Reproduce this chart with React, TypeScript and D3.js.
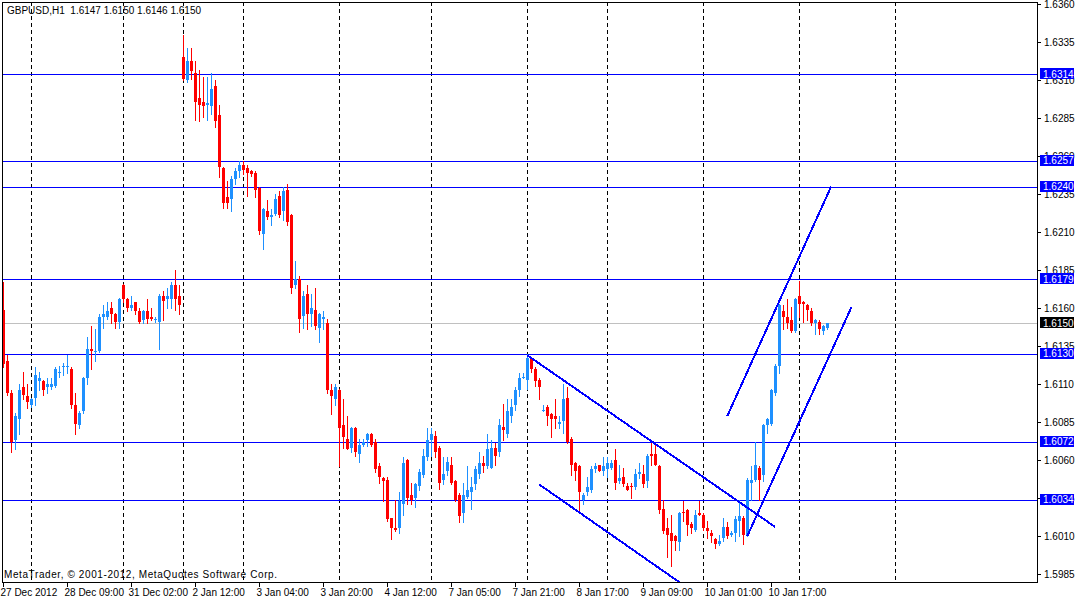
import React from "react";
import * as d3 from "d3";

// GBPUSD H1 candles (bar 0 = 27 Dec 2012)
const opens = [
  1.6159, 1.6125, 1.6104, 1.6073, 1.6087, 1.6108, 1.6102, 1.6096, 1.6101, 1.6112,
  1.6112, 1.6108, 1.6108, 1.6109, 1.6117, 1.6121, 1.6121, 1.612, 1.6096, 1.6083,
  1.6092, 1.6114, 1.6133, 1.6131, 1.6132, 1.6154, 1.6154, 1.616, 1.6156, 1.6151,
  1.6175, 1.6166, 1.616, 1.6164, 1.6158, 1.6152, 1.6158, 1.6154, 1.6152, 1.6151,
  1.6168, 1.6166, 1.6166, 1.6175, 1.6168, 1.6325, 1.631, 1.6323, 1.6315, 1.6298,
  1.6296, 1.6294, 1.6293, 1.6306, 1.6287, 1.6252, 1.6233, 1.6232, 1.6245, 1.625,
  1.6254, 1.6252, 1.625, 1.6249, 1.6239, 1.6209, 1.6224, 1.622, 1.6222, 1.6234,
  1.6224, 1.6238, 1.6221, 1.6175, 1.6179, 1.6155, 1.6169, 1.6156, 1.6159, 1.6147,
  1.6153, 1.615, 1.6106, 1.61, 1.6106, 1.6083, 1.6074, 1.6068, 1.6081, 1.6064,
  1.607, 1.6073, 1.6077, 1.6072, 1.6056, 1.6048, 1.6047, 1.6022, 1.6015, 1.6015,
  1.6031, 1.606, 1.6037, 1.6035, 1.6043, 1.605, 1.6062, 1.6073, 1.6076, 1.6068,
  1.6047, 1.6053, 1.6057, 1.6046, 1.6037, 1.6025, 1.6036, 1.6039, 1.6044, 1.6051,
  1.6058, 1.6056, 1.6055, 1.6068, 1.6065, 1.6082, 1.6077, 1.6089, 1.6096, 1.6106,
  1.6114, 1.6113, 1.6127, 1.612, 1.6113, 1.6092, 1.6095, 1.609, 1.6089, 1.6084,
  1.6086, 1.6101, 1.6074, 1.6058, 1.6056, 1.6034, 1.6039, 1.604, 1.6054, 1.6057,
  1.6053, 1.6054, 1.6055, 1.606, 1.6046, 1.6049, 1.6043, 1.6043, 1.6042, 1.6051,
  1.6051, 1.6046, 1.6064, 1.6064, 1.6056, 1.6028, 1.6015, 1.6012, 1.601, 1.6006,
  1.6026, 1.6027, 1.6018, 1.6014, 1.6025, 1.6024, 1.6015, 1.6012, 1.6008, 1.6005,
  1.6009, 1.6016, 1.6011, 1.6012, 1.602, 1.6022, 1.6011, 1.6045, 1.6047, 1.6055,
  1.605, 1.6083, 1.6084, 1.6104, 1.6122, 1.6158, 1.6154, 1.6152, 1.6145, 1.6168,
  1.6164, 1.6162, 1.6158, 1.615, 1.6151, 1.6145, 1.6147,
];
const highs = [
  1.6177, 1.6129, 1.6106, 1.6091, 1.611, 1.6118, 1.611, 1.6101, 1.6121, 1.6118,
  1.6113, 1.6114, 1.6114, 1.6121, 1.6122, 1.6124, 1.6129, 1.6121, 1.6104, 1.6092,
  1.6115, 1.6141, 1.6148, 1.6146, 1.6156, 1.6162, 1.6164, 1.6164, 1.6157, 1.6167,
  1.6176, 1.6167, 1.6168, 1.6164, 1.616, 1.6159, 1.6166, 1.616, 1.6154, 1.6169,
  1.6171, 1.6173, 1.6177, 1.6185, 1.6175, 1.634, 1.6331, 1.6331, 1.6323, 1.6317,
  1.6312, 1.6312, 1.6315, 1.631, 1.6294, 1.6253, 1.6244, 1.6247, 1.6252, 1.6257,
  1.6257, 1.6254, 1.6251, 1.625, 1.624, 1.6226, 1.6231, 1.6225, 1.6235, 1.6237,
  1.624, 1.6242, 1.6222, 1.6191, 1.6181, 1.6171, 1.6175, 1.6169, 1.6173, 1.6157,
  1.6158, 1.6153, 1.611, 1.611, 1.6107, 1.61, 1.6089, 1.6082, 1.6082, 1.6074,
  1.6074, 1.6078, 1.6078, 1.6074, 1.6058, 1.6049, 1.6049, 1.6022, 1.6034, 1.6039,
  1.6062, 1.6061, 1.6045, 1.6045, 1.6054, 1.6067, 1.6081, 1.6081, 1.6079, 1.6069,
  1.6062, 1.6062, 1.6062, 1.6047, 1.6038, 1.6045, 1.6056, 1.6049, 1.6056, 1.6065,
  1.6063, 1.6077, 1.6073, 1.6071, 1.6087, 1.6097, 1.61, 1.61, 1.6108, 1.6117,
  1.6117, 1.613, 1.6128, 1.6121, 1.6114, 1.6096, 1.6096, 1.6091, 1.61, 1.6089,
  1.611, 1.6108, 1.6075, 1.6059, 1.6057, 1.6038, 1.6049, 1.6056, 1.6058, 1.6057,
  1.6062, 1.6062, 1.606, 1.6067, 1.6057, 1.6055, 1.6045, 1.6045, 1.6054, 1.6058,
  1.6057, 1.6064, 1.6071, 1.607, 1.6057, 1.6034, 1.6022, 1.6024, 1.6011, 1.6026,
  1.6033, 1.6028, 1.6019, 1.6027, 1.6033, 1.6025, 1.602, 1.6014, 1.6009, 1.6011,
  1.6022, 1.6019, 1.6013, 1.6023, 1.6034, 1.6023, 1.6048, 1.6056, 1.6072, 1.6056,
  1.6084, 1.6088, 1.6107, 1.6123, 1.6163, 1.6162, 1.6166, 1.6161, 1.6167, 1.6178,
  1.6165, 1.6163, 1.616, 1.6153, 1.6152, 1.6149, 1.615,
];
const lows = [
  1.6121, 1.6103, 1.6065, 1.6067, 1.6077, 1.61, 1.6094, 1.6095, 1.6096, 1.6106,
  1.6103, 1.6104, 1.6107, 1.6108, 1.6115, 1.6116, 1.6117, 1.6094, 1.6077, 1.6081,
  1.6091, 1.611, 1.612, 1.6125, 1.6131, 1.6147, 1.6153, 1.615, 1.6147, 1.6147,
  1.6164, 1.6158, 1.6159, 1.6156, 1.615, 1.615, 1.615, 1.6152, 1.6151, 1.6133,
  1.6152, 1.616, 1.616, 1.6159, 1.6156, 1.631, 1.6309, 1.6311, 1.6284, 1.6283,
  1.6286, 1.6284, 1.6288, 1.6279, 1.6246, 1.6226, 1.6226, 1.6224, 1.6242, 1.6246,
  1.6248, 1.6234, 1.6247, 1.6233, 1.6209, 1.6199, 1.6219, 1.6215, 1.6221, 1.622,
  1.6218, 1.6215, 1.617, 1.6173, 1.6144, 1.6147, 1.6146, 1.6148, 1.6146, 1.6138,
  1.6146, 1.6104, 1.609, 1.6096, 1.6056, 1.6068, 1.6067, 1.6065, 1.6063, 1.6059,
  1.6069, 1.6069, 1.6069, 1.6052, 1.6045, 1.6033, 1.602, 1.6008, 1.6013, 1.6012,
  1.6024, 1.6031, 1.6031, 1.6029, 1.604, 1.6049, 1.606, 1.6063, 1.6062, 1.6041,
  1.6044, 1.605, 1.6044, 1.6033, 1.6019, 1.6019, 1.6035, 1.6028, 1.6041, 1.6048,
  1.6052, 1.6055, 1.6055, 1.6057, 1.6063, 1.6073, 1.6075, 1.6085, 1.6093, 1.6102,
  1.6114, 1.6107, 1.6118, 1.6109, 1.61, 1.6092, 1.6083, 1.6075, 1.6081, 1.6081,
  1.6078, 1.6071, 1.605, 1.6047, 1.6026, 1.6031, 1.6037, 1.6039, 1.6052, 1.6053,
  1.605, 1.6049, 1.6054, 1.6041, 1.6045, 1.6043, 1.604, 1.6035, 1.6041, 1.6048,
  1.6042, 1.6042, 1.6057, 1.6057, 1.6025, 1.6012, 1.5996, 1.599, 1.6001, 1.6001,
  1.602, 1.6011, 1.6012, 1.6013, 1.6024, 1.6014, 1.6009, 1.6006, 1.6002, 1.6004,
  1.6007, 1.6009, 1.601, 1.6007, 1.601, 1.6005, 1.601, 1.6034, 1.6046, 1.6034,
  1.6046, 1.6078, 1.6083, 1.6103, 1.6117, 1.6146, 1.6147, 1.6144, 1.6144, 1.6154,
  1.6151, 1.6152, 1.6149, 1.6143, 1.6143, 1.6143, 1.6146,
];
const closes = [
  1.6123, 1.6104, 1.6072, 1.6089, 1.6106, 1.6103, 1.6098, 1.61, 1.6116, 1.6114,
  1.6106, 1.611, 1.611, 1.612, 1.6118, 1.6122, 1.6122, 1.6096, 1.6084, 1.6091,
  1.6114, 1.6133, 1.6132, 1.6132, 1.6154, 1.6156, 1.6158, 1.6156, 1.6151, 1.6166,
  1.6166, 1.616, 1.6162, 1.6158, 1.6151, 1.6158, 1.6153, 1.6153, 1.6153, 1.6168,
  1.6165, 1.6168, 1.6175, 1.6166, 1.6162, 1.6311, 1.6323, 1.6316, 1.6296, 1.6294,
  1.6293, 1.6295, 1.6304, 1.6283, 1.6253, 1.6229, 1.6229, 1.6245, 1.625, 1.6254,
  1.6251, 1.6249, 1.6248, 1.6238, 1.6211, 1.6225, 1.622, 1.6221, 1.6232, 1.6221,
  1.6237, 1.6217, 1.6173, 1.6179, 1.6153, 1.6168, 1.6156, 1.616, 1.6148, 1.6156,
  1.6154, 1.6106, 1.6102, 1.6108, 1.6081, 1.6075, 1.6067, 1.6081, 1.6065, 1.607,
  1.6072, 1.6077, 1.607, 1.6054, 1.6049, 1.6046, 1.6021, 1.6015, 1.6014, 1.6033,
  1.6058, 1.6035, 1.6034, 1.6044, 1.6052, 1.6063, 1.6073, 1.6077, 1.6065, 1.6045,
  1.6051, 1.6059, 1.6045, 1.6034, 1.6023, 1.6037, 1.604, 1.6042, 1.6054, 1.6058,
  1.6056, 1.6067, 1.6068, 1.6063, 1.6083, 1.608, 1.6092, 1.6095, 1.6106, 1.6114,
  1.6115, 1.6127, 1.612, 1.6112, 1.6108, 1.6093, 1.6089, 1.6087, 1.6087, 1.6085,
  1.61, 1.6072, 1.6057, 1.6053, 1.6039, 1.6037, 1.6042, 1.6054, 1.6056, 1.6053,
  1.6056, 1.6058, 1.6058, 1.6045, 1.6048, 1.6044, 1.604, 1.6042, 1.6051, 1.6052,
  1.6044, 1.6063, 1.6063, 1.6057, 1.6027, 1.6013, 1.6011, 1.6007, 1.6007, 1.6025,
  1.6025, 1.6017, 1.6015, 1.6024, 1.6024, 1.6015, 1.6013, 1.601, 1.6005, 1.6007,
  1.6016, 1.601, 1.6012, 1.6021, 1.6023, 1.6011, 1.6047, 1.6047, 1.6057, 1.6047,
  1.6083, 1.6087, 1.6106, 1.6122, 1.6162, 1.6154, 1.615, 1.6145, 1.6166, 1.6163,
  1.6163, 1.6159, 1.615, 1.6152, 1.6146, 1.6148, 1.615,
];

const timeTicks = [0, 16, 32, 48, 64, 80, 96, 112, 128, 144, 160, 176, 192];
const timeLabels = [
  "27 Dec 2012", "28 Dec 09:00", "31 Dec 02:00", "2 Jan 12:00", "3 Jan 04:00",
  "3 Jan 20:00", "4 Jan 12:00", "7 Jan 05:00", "7 Jan 21:00", "8 Jan 17:00",
  "9 Jan 09:00", "10 Jan 01:00", "10 Jan 17:00",
];
const separators = [7, 30, 45, 60, 84, 107, 131, 151, 175, 199, 223];
const priceTicks = [
  1.636, 1.6335, 1.631, 1.6285, 1.626, 1.6235, 1.621, 1.6185, 1.616, 1.6135,
  1.611, 1.6085, 1.606, 1.6035, 1.601, 1.5985,
];
const levels = [1.6314, 1.6257, 1.624, 1.6179, 1.613, 1.6072, 1.6034];
const bid = 1.615;
// [bar, price, bar, price]
const trendLines = [
  [130.95, 1.6129, 192.9, 1.6016],
  [133.9, 1.6044, 172, 1.5974],
  [180.95, 1.6089, 206.9, 1.624],
  [185.95, 1.601, 212.05, 1.6161],
];

const W = 1075;
const H = 599;
const frame = { left: 2, top: 2, right: 1037, bottom: 582 };
const BULL = "#1E90FF";
const BEAR = "#FF0000";
const LINE = "#0000FF";
const font = "'Liberation Sans', Arial, sans-serif";

const x = d3.scaleLinear().domain([0, 1]).range([3.5, 7.5]);
const y = d3.scaleLinear().domain([1.636, 1.5985]).range([4.3, 574]);
const crisp = (v: number) => Math.round(v) + 0.5;

export default function App() {
  const n = opens.length;
  const last = n - 1;
  const title = `GBPUSD,H1  ${opens[last].toFixed(4)} ${highs[last].toFixed(4)} ${lows[last].toFixed(4)} ${closes[last].toFixed(4)}`;

  return (
    <svg
      width={W}
      height={H}
      style={{ position: "absolute", left: 0, top: 0, background: "#fff" }}
      fontFamily={font}
      fontSize={10}
    >
      <defs>
        <clipPath id="plot">
          <rect
            x={frame.left + 1}
            y={frame.top + 1}
            width={frame.right - frame.left - 1}
            height={frame.bottom - frame.top - 1}
          />
        </clipPath>
      </defs>
      <rect width={W} height={H} fill="#fff" />

      <text x={7} y={14} fill="#000" style={{ whiteSpace: "pre" }}>
        {title}
      </text>
      <text x={4} y={578} fill="#000" textLength={273} lengthAdjust="spacing">
        MetaTrader, © 2001-2012, MetaQuotes Software Corp.
      </text>

      <g clipPath="url(#plot)" shapeRendering="crispEdges">
        {separators.map((s) => (
          <line
            key={"s" + s}
            x1={crisp(x(s) - 0.5)}
            x2={crisp(x(s) - 0.5)}
            y1={frame.top}
            y2={frame.bottom}
            stroke="#000"
            strokeDasharray="4,3"
          />
        ))}
        <line
          x1={frame.left}
          x2={frame.right}
          y1={crisp(y(bid))}
          y2={crisp(y(bid))}
          stroke="#C0C0C0"
        />
        {levels.map((p) => (
          <line
            key={"l" + p}
            x1={frame.left}
            x2={frame.right}
            y1={crisp(y(p))}
            y2={crisp(y(p))}
            stroke={LINE}
          />
        ))}
        {opens.map((o, i) => {
          const c = closes[i];
          const color = c >= o ? BULL : BEAR;
          const xc = x(i);
          const yh = Math.round(y(highs[i]));
          const yl = Math.round(y(lows[i]));
          const yt = Math.round(y(Math.max(o, c)));
          const yb = Math.round(y(Math.min(o, c)));
          return (
            <g key={i}>
              <line x1={xc} x2={xc} y1={yh} y2={yl + 1} stroke={color} />
              <rect x={xc - 1.5} y={yt} width={3} height={Math.max(1, yb - yt)} fill={color} />
            </g>
          );
        })}
        {trendLines.map((t, k) => (
          <line
            key={"t" + k}
            x1={x(t[0])}
            y1={y(t[1])}
            x2={x(t[2])}
            y2={y(t[3])}
            stroke={LINE}
            strokeWidth={2}
          />
        ))}
      </g>

      <rect
        x={frame.left + 0.5}
        y={frame.top + 0.5}
        width={frame.right - frame.left}
        height={frame.bottom - frame.top}
        fill="none"
        stroke="#000"
        shapeRendering="crispEdges"
      />

      {priceTicks.map((p) => (
        <g key={"p" + p}>
          <line
            x1={frame.right}
            x2={frame.right + 4}
            y1={crisp(y(p))}
            y2={crisp(y(p))}
            stroke="#000"
            shapeRendering="crispEdges"
          />
          <text x={frame.right + 7} y={y(p) + 3.5} fill="#000">
            {p.toFixed(4)}
          </text>
        </g>
      ))}

      {levels.map((p) => (
        <g key={"b" + p}>
          <rect x={1040} y={Math.round(y(p)) - 6} width={34} height={11} fill={LINE} />
          <text x={1043} y={y(p) + 3.5} fill="#fff">
            {p.toFixed(4)}
          </text>
        </g>
      ))}
      <rect x={1040} y={Math.round(y(bid)) - 6} width={34} height={11} fill="#000" />
      <text x={1043} y={y(bid) + 3.5} fill="#fff">
        {bid.toFixed(4)}
      </text>

      {timeTicks.map((t, k) => (
        <g key={"x" + t}>
          <line
            x1={crisp(x(t) - 0.5)}
            x2={crisp(x(t) - 0.5)}
            y1={frame.bottom}
            y2={frame.bottom + 5}
            stroke="#000"
            shapeRendering="crispEdges"
          />
          <text x={x(t) - 3} y={596} fill="#000">
            {timeLabels[k]}
          </text>
        </g>
      ))}
    </svg>
  );
}
